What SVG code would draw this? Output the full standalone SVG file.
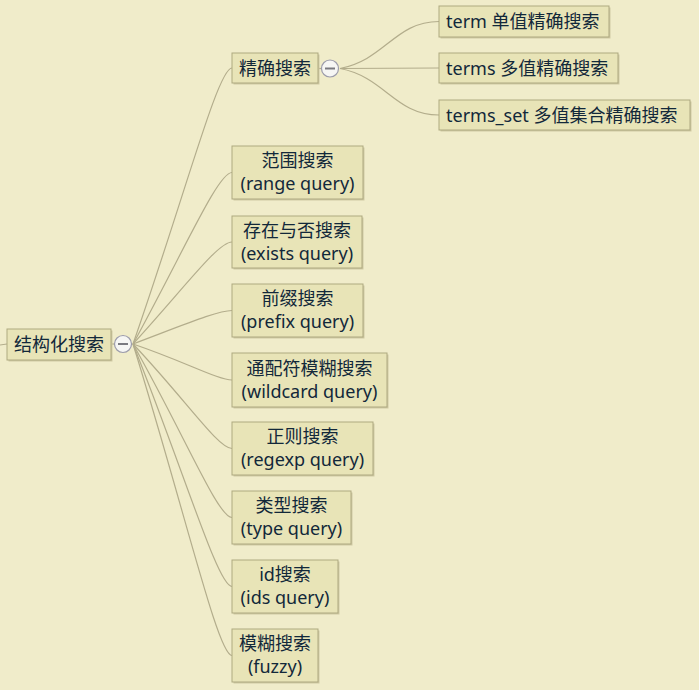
<svg xmlns="http://www.w3.org/2000/svg" width="699" height="690" viewBox="0 0 699 690">
<defs>
<style>
.bg{fill:#f0ecca}
.sh{fill:#cfc9a3}
.box{fill:#e8e4b7;stroke:#aea980;stroke-width:1}
.t{font-family:"Noto Sans","Noto Sans CJK SC",sans-serif;font-size:18px;fill:#12283a}
.c{text-anchor:middle}
.ln{fill:none;stroke:#b3ad8c;stroke-width:1.2}
.tg{fill:#f6f6f4;stroke:#9c9cab;stroke-width:1.2}
.mn{stroke:#7a7a80;stroke-width:2}
</style>
</defs>
<rect class="bg" x="0" y="0" width="699" height="690"/>
<g id="connectors">
<path class="ln" d="M0 345 L7 344"/>
<path class="ln" d="M111 344 L114 344"/>
<path class="ln" d="M133 344 C186 192 218 68 232 68"/>
<path class="ln" d="M133 344 C186 247 218 172.5 232 172.5"/>
<path class="ln" d="M133 344 C186 286 218 242 232 242"/>
<path class="ln" d="M133 344 C186 324 218 310.5 232 310.5"/>
<path class="ln" d="M133 344 C186 362 218 380 232 380"/>
<path class="ln" d="M133 344 C186 400 218 448.5 232 448.5"/>
<path class="ln" d="M133 344 C186 438 218 517.5 232 517.5"/>
<path class="ln" d="M133 344 C186 477 218 586.5 232 586.5"/>
<path class="ln" d="M133 344 C186 515 218 655.5 232 655.5"/>
<path class="ln" d="M318 68.5 L321 68.5"/>
<path class="ln" d="M340 68.5 C385 60 395 21.5 439 21.5"/>
<path class="ln" d="M340 68.5 L439 68"/>
<path class="ln" d="M340 68.5 C385 77 395 115 439 115"/>
</g>
<g id="root">
<rect class="sh" x="8.5" y="330.5" width="104" height="31"/>
<rect class="box" x="7" y="329" width="104" height="31"/>
<text class="t c" x="59" y="350.5">结构化搜索</text>
</g>
<g id="root-toggle">
<circle class="tg" cx="123" cy="344" r="8.5"/>
<line class="mn" x1="118" y1="344" x2="128" y2="344"/>
</g>
<g id="exact">
<rect class="sh" x="233.5" y="54.5" width="86" height="30"/>
<rect class="box" x="232" y="53" width="86" height="30"/>
<text class="t c" x="275" y="74.5">精确搜索</text>
</g>
<g id="exact-toggle">
<circle class="tg" cx="330" cy="68.5" r="8.5"/>
<line class="mn" x1="325" y1="68.5" x2="335" y2="68.5"/>
</g>
<g id="term">
<rect class="sh" x="440.5" y="7.5" width="170" height="31"/>
<rect class="box" x="439" y="6" width="170" height="31"/>
<text class="t" x="446" y="28">term 单值精确搜索</text>
</g>
<g id="terms">
<rect class="sh" x="440.5" y="54.5" width="179" height="30"/>
<rect class="box" x="439" y="53" width="179" height="30"/>
<text class="t" x="446" y="74.5">terms 多值精确搜索</text>
</g>
<g id="terms_set">
<rect class="sh" x="440.5" y="101.5" width="251" height="30"/>
<rect class="box" x="439" y="100" width="251" height="30"/>
<text class="t" x="446" y="121.5">terms_set 多值集合精确搜索</text>
</g>
<g id="range">
<rect class="sh" x="233.5" y="147.5" width="131" height="53"/>
<rect class="box" x="232" y="146" width="131" height="53"/>
<text class="t c" x="297.5" y="167">范围搜索</text>
<text class="t c" x="297.5" y="190">(range query)</text>
</g>
<g id="exists">
<rect class="sh" x="233.5" y="217.5" width="130" height="52"/>
<rect class="box" x="232" y="216" width="130" height="52"/>
<text class="t c" x="297" y="236.5">存在与否搜索</text>
<text class="t c" x="297" y="259.5">(exists query)</text>
</g>
<g id="prefix">
<rect class="sh" x="233.5" y="285.5" width="131" height="53"/>
<rect class="box" x="232" y="284" width="131" height="53"/>
<text class="t c" x="297.5" y="305">前缀搜索</text>
<text class="t c" x="297.5" y="328">(prefix query)</text>
</g>
<g id="wildcard">
<rect class="sh" x="233.5" y="354.5" width="155" height="54"/>
<rect class="box" x="232" y="353" width="155" height="54"/>
<text class="t c" x="309.5" y="374.5">通配符模糊搜索</text>
<text class="t c" x="309.5" y="397.5">(wildcard query)</text>
</g>
<g id="regexp">
<rect class="sh" x="233.5" y="423.5" width="141" height="53"/>
<rect class="box" x="232" y="422" width="141" height="53"/>
<text class="t c" x="302.5" y="443">正则搜索</text>
<text class="t c" x="302.5" y="466">(regexp query)</text>
</g>
<g id="type">
<rect class="sh" x="233.5" y="492.5" width="119" height="53"/>
<rect class="box" x="232" y="491" width="119" height="53"/>
<text class="t c" x="291.5" y="512">类型搜索</text>
<text class="t c" x="291.5" y="535">(type query)</text>
</g>
<g id="ids">
<rect class="sh" x="233.5" y="561.5" width="106" height="53"/>
<rect class="box" x="232" y="560" width="106" height="53"/>
<text class="t c" x="285" y="581">id搜索</text>
<text class="t c" x="285" y="604">(ids query)</text>
</g>
<g id="fuzzy">
<rect class="sh" x="233.5" y="630.5" width="86" height="53"/>
<rect class="box" x="232" y="629" width="86" height="53"/>
<text class="t c" x="275" y="650">模糊搜索</text>
<text class="t c" x="275" y="673">(fuzzy)</text>
</g>
</svg>
